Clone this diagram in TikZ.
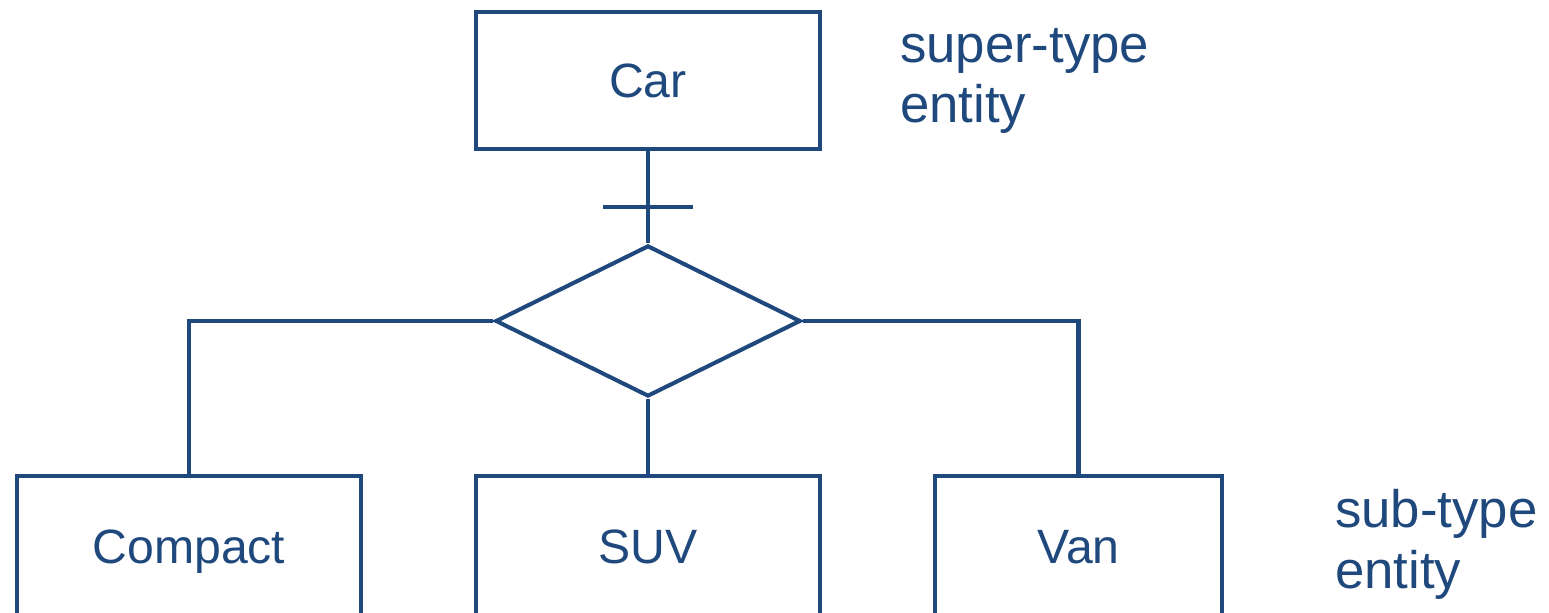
\documentclass[tikz,border=0pt]{standalone}
\usepackage{fontspec}
\setmainfont{Liberation Sans}
\usetikzlibrary{shapes.geometric}
\definecolor{erblue}{HTML}{1F497D}
\begin{document}
\begin{tikzpicture}[x=0.01cm,y=-0.01cm,
  line width=1.15pt, draw=erblue,
  entity/.style={draw=erblue, rectangle, inner sep=0pt, minimum height=1.36cm,
    text height=0.342cm, text depth=0pt,
    font=\fontsize{13.7}{16.4}\selectfont, text=erblue},
  isa/.style={draw=erblue, diamond, inner sep=0pt, minimum width=3.05cm, minimum height=1.51cm},
  lbl/.style={font=\fontsize{15}{17.3}\selectfont, text=erblue, align=left, inner sep=0pt},
  conn/.style={draw=erblue, line width=1.15pt}]
\useasboundingbox (0,0) rectangle (1549,613);
\node[entity, minimum width=3.44cm] (car) at (648,80.5) {Car};
\node[isa] (d) at (648,321) {};
\node[entity, minimum width=3.44cm, minimum height=1.40cm] (compact) at (189,546) {Compact};
\node[entity, minimum width=3.44cm, minimum height=1.40cm] (suv) at (648,546) {SUV};
\node[entity, minimum width=2.87cm, minimum height=1.40cm] (van) at (1078.5,546) {Van};
\coordinate (tick) at (648,207);
\draw[conn] (car.south) -- (d.north);
\draw[conn] ([xshift=-0.45cm]tick) -- ([xshift=0.45cm]tick);
\draw[conn] (d.west) -| (compact.north);
\draw[conn] (d.east) -| (van.north);
\draw[conn] (d.south) -- (suv.north);
\node[lbl, anchor=base west] (super) at (898,123) {super-type\\entity};
\node[lbl, anchor=base west] (sub) at (1333,588) {sub-type\\entity};
\end{tikzpicture}
\end{document}
